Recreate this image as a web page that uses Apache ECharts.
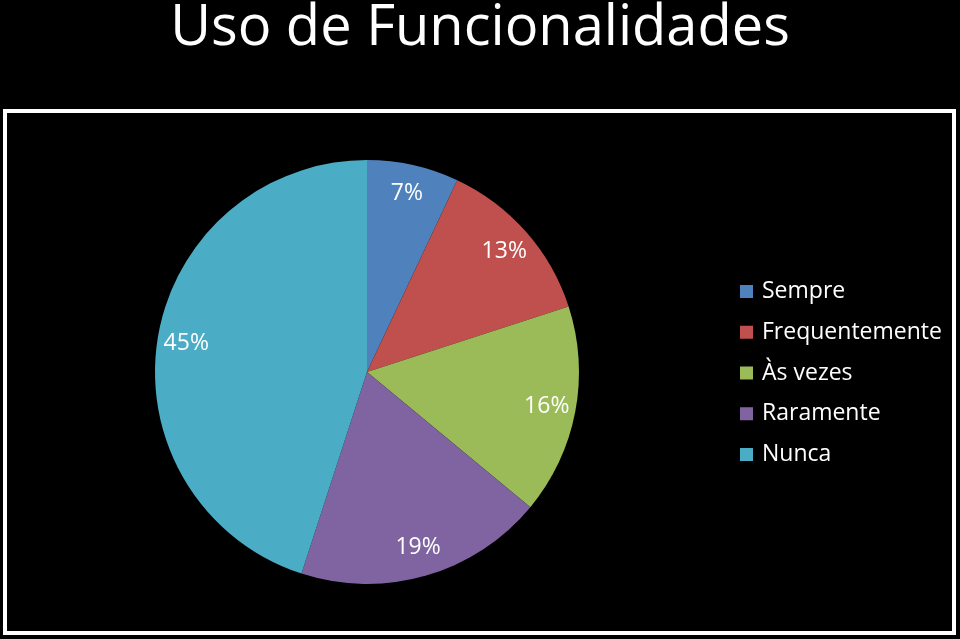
<!DOCTYPE html>
<html>
<head>
<meta charset="utf-8">
<script src="https://cdn.jsdelivr.net/npm/echarts@6/dist/echarts.min.js"></script>
<style>
html,body{margin:0;padding:0;background:#000;}
#c{width:960px;height:639px;}
</style>
</head>
<body>
<div id="c"></div>
<script>
const titleText = 'Uso de Funcionalidades';
const categories = ['Sempre', 'Frequentemente', 'Às vezes', 'Raramente', 'Nunca'];
const values = [7, 13, 16, 19, 45];
const colors = ['#4F81BD', '#C0504D', '#9BBB59', '#8064A2', '#4BACC6'];

const data = categories.map((n, i) => ({ name: n, value: values[i] }));
const FONT = '"Open Sans", sans-serif';

const chart = echarts.init(document.getElementById('c'), null, { renderer: 'canvas' });
chart.setOption({
  backgroundColor: '#000',
  color: colors,
  animation: false,
  title: {
    text: titleText,
    left: 'center',
    top: 1,
    padding: 0,
    textStyle: { color: '#fff', fontFamily: FONT, fontWeight: 'normal', fontSize: 56 }
  },
  legend: {
    orient: 'vertical',
    left: 740,
    top: 280,
    padding: 0,
    itemWidth: 13,
    itemHeight: 13,
    itemGap: 17.75,
    icon: 'rect',
    data: categories,
    textStyle: { color: '#fff', fontFamily: FONT, fontSize: 23, lineHeight: 22, padding: [0, 0, 0, 4] }
  },
  graphic: [{
    type: 'rect',
    shape: { x: 5, y: 111, width: 949, height: 522 },
    style: { fill: 'none', stroke: '#fff', lineWidth: 4 },
    silent: true,
    z: -1
  }],
  series: [{
    type: 'pie',
    center: [367, 372],
    radius: [0, 212],
    startAngle: 90,
    clockwise: true,
    data: data,
    label: { show: false },
    labelLine: { show: false },
    itemStyle: { borderWidth: 0 },
    emphasis: { disabled: true }
  }, {
    type: 'pie',
    center: [367, 372],
    radius: [148, 212],
    startAngle: 90,
    clockwise: true,
    data: data,
    silent: true,
    itemStyle: { color: 'rgba(0,0,0,0)', borderWidth: 0 },
    label: {
      show: true,
      position: 'inside',
      formatter: p => Math.round(p.percent) + '%',
      color: '#fff',
      fontFamily: FONT,
      fontSize: 23,
      textBorderWidth: 0
    },
    labelLine: { show: false },
    emphasis: { disabled: true },
    legendHoverLink: false
  }]
});
</script>
</body>
</html>
